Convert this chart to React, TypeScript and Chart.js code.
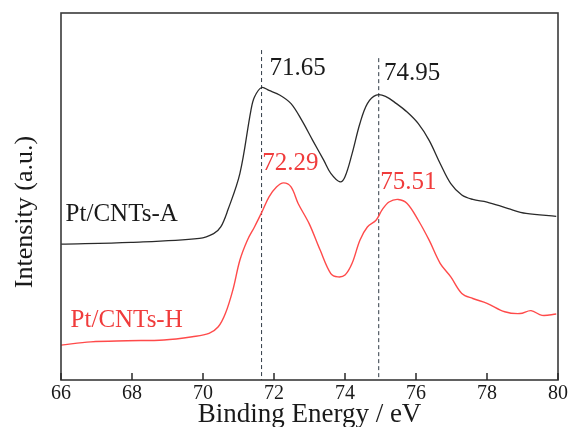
import { useEffect, useRef } from "react";
import { Chart, registerables } from "chart.js";

Chart.register(...registerables);

const FONT = '"Liberation Serif", "Times New Roman", serif';

// Pt/CNTs-A spectrum (binding energy, intensity a.u.)
const energyA = [66, 67.97, 69.9, 70.3, 70.5, 70.7, 71.04, 71.35, 71.45, 71.65, 71.86, 72.17, 72.48, 72.78, 73.09, 73.4, 73.6, 73.86, 74.0, 74.2, 74.42, 74.63, 74.88, 75.14, 75.45, 75.75, 76.06, 76.37, 76.68, 76.98, 77.29, 77.6, 78.0, 78.6, 79.1, 79.95];
const intensityA = [37.0, 37.5, 38.6, 39.9, 41.7, 46.3, 56.3, 73.5, 77.1, 79.7, 78.9, 77.6, 75.3, 70.8, 65.3, 59.9, 56.3, 54.0, 55.4, 61.7, 69.9, 75.3, 77.6, 77.3, 75.3, 73.0, 69.9, 65.3, 59.0, 53.5, 50.4, 49.2, 48.5, 46.7, 45.4, 44.6];

// Pt/CNTs-H spectrum
const energyH = [66, 66.84, 67.86, 68.9, 69.7, 70.17, 70.43, 70.63, 70.84, 71.04, 71.25, 71.45, 71.66, 71.86, 72.07, 72.27, 72.48, 72.68, 72.99, 73.3, 73.6, 73.8, 74.0, 74.2, 74.42, 74.63, 74.88, 75.04, 75.24, 75.5, 75.75, 76.06, 76.37, 76.68, 76.98, 77.29, 77.6, 78.0, 78.5, 78.93, 79.24, 79.55, 79.95];
const intensityH = [9.5, 10.4, 10.7, 10.9, 11.8, 12.7, 14.5, 18.1, 24.5, 32.7, 38.1, 41.7, 45.8, 49.9, 52.6, 53.7, 52.6, 48.1, 42.6, 35.4, 29.0, 28.1, 28.6, 31.8, 38.1, 41.7, 43.6, 46.3, 48.5, 49.2, 48.1, 43.6, 38.1, 31.8, 28.1, 23.6, 22.2, 20.9, 18.6, 18.1, 18.9, 17.6, 18.0];

const xTicks = [66, 68, 70, 72, 74, 76, 78, 80];

// dashed reference lines
const peakLinesX = [71.65, 74.95];
const peakLinesTop = [89.9, 87.7];

// peak annotations
const peakLabels = ["71.65", "74.95", "72.29", "75.51"];
const peakLabelX = [71.87, 75.1, 71.67, 74.99];
const peakLabelY = [85.0, 83.4, 59.1, 53.7];
const peakLabelColor = ["#1a1a1a", "#1a1a1a", "#f03c3c", "#f03c3c"];

// series names
const seriesNames = ["Pt/CNTs-A", "Pt/CNTs-H"];
const seriesLabelX = [66.13, 66.27];
const seriesLabelY = [45.0, 16.3];
const seriesColor = ["#1a1a1a", "#f03c3c"];

const decorPlugin = {
  id: "decor",
  afterDraw(chart: any) {
    const { ctx, chartArea, scales } = chart;
    const xs = scales.x;
    const ys = scales.y;
    ctx.save();
    ctx.setLineDash([]);
    // frame
    ctx.strokeStyle = "#3a3a3a";
    ctx.lineWidth = 1.6;
    ctx.strokeRect(chartArea.left, chartArea.top, chartArea.right - chartArea.left, chartArea.bottom - chartArea.top);
    // inward tick marks
    ctx.fillStyle = "#2a2a2a";
    for (let i = 0; i < xTicks.length; i++) {
      const px = Math.round(xs.getPixelForValue(xTicks[i]));
      ctx.fillRect(px - 0.75, chartArea.bottom - 7, 1.5, 7);
    }
    // annotations
    ctx.textAlign = "left";
    ctx.textBaseline = "middle";
    ctx.font = `25px ${FONT}`;
    peakLabels.forEach((t, i) => {
      ctx.fillStyle = peakLabelColor[i];
      ctx.fillText(t, xs.getPixelForValue(peakLabelX[i]), ys.getPixelForValue(peakLabelY[i]));
    });
    seriesNames.forEach((t, i) => {
      ctx.fillStyle = seriesColor[i];
      ctx.fillText(t, xs.getPixelForValue(seriesLabelX[i]), ys.getPixelForValue(seriesLabelY[i]));
    });
    // y axis title
    ctx.translate(25, 212);
    ctx.rotate(-Math.PI / 2);
    ctx.textAlign = "center";
    ctx.fillStyle = "#1a1a1a";
    ctx.font = `26px ${FONT}`;
    ctx.fillText("Intensity (a.u.)", 0, 0);
    ctx.restore();
  },
};

export default function App() {
  const ref = useRef<HTMLCanvasElement>(null);

  useEffect(() => {
    if (!ref.current) return;
    const lineDatasets = peakLinesX.map((x, i) => ({
      label: `line${i}`,
      data: [
        { x, y: peakLinesTop[i] },
        { x, y: 0 },
      ],
      borderColor: "#2f3a45",
      borderWidth: 1,
      borderDash: [4, 3],
      pointRadius: 0,
      showLine: true,
      fill: false,
    }));
    const chart = new Chart(ref.current, {
      type: "scatter",
      data: {
        datasets: [
          {
            label: seriesNames[0],
            data: energyA.map((x, i) => ({ x, y: intensityA[i] })),
            borderColor: "#2a2a2a",
            borderWidth: 1.3,
            pointRadius: 0,
            showLine: true,
            tension: 0.35,
          },
          {
            label: seriesNames[1],
            data: energyH.map((x, i) => ({ x, y: intensityH[i] })),
            borderColor: "#ff4a4a",
            borderWidth: 1.4,
            pointRadius: 0,
            showLine: true,
            tension: 0.35,
          },
          ...lineDatasets,
        ] as any,
      },
      options: {
        responsive: false,
        animation: false,
        layout: { padding: { top: 13, right: 11, left: 0, bottom: 0 } },
        plugins: { legend: { display: false }, tooltip: { enabled: false } },
        scales: {
          x: {
            type: "linear",
            min: 66,
            max: 80,
            afterBuildTicks: (s: any) => {
              s.ticks = xTicks.map((v) => ({ value: v }));
            },
            afterFit: (s: any) => {
              s.height = 47;
            },
            ticks: {
              font: { family: FONT, size: 20 },
              color: "#1a1a1a",
              padding: 2,
              maxRotation: 0,
              autoSkip: false,
            },
            grid: { display: false, drawTicks: false },
            border: { display: false },
            title: {
              display: true,
              text: "Binding Energy / eV",
              font: { family: FONT, size: 27, lineHeight: 0.9 },
              color: "#1a1a1a",
              padding: 0,
            },
          },
          y: {
            type: "linear",
            min: 0,
            max: 100,
            afterFit: (s: any) => {
              s.width = 61;
            },
            ticks: { display: false },
            grid: { display: false, drawTicks: false },
            border: { display: false },
          },
        },
      },
      plugins: [decorPlugin],
    });
    return () => chart.destroy();
  }, []);

  return (
    <div style={{ position: "absolute", left: 0, top: 0, width: 570, height: 427, background: "#fff" }}>
      <canvas ref={ref} width={570} height={427} />
    </div>
  );
}
